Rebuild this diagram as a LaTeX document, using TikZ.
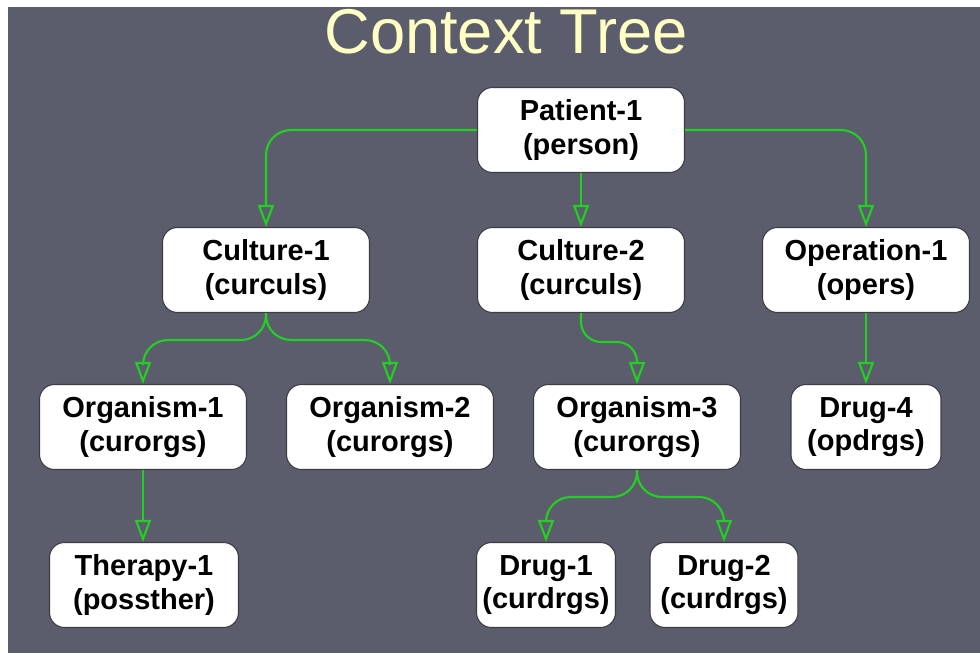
\documentclass[tikz,border=0pt]{standalone}
\usepackage{fontspec}
\setmainfont{Liberation Sans}
\usepackage{tikz}
\usetikzlibrary{arrows.meta}

\definecolor{slide}{RGB}{91,93,109}
\definecolor{linkgreen}{RGB}{34,208,34}
\definecolor{titleyellow}{RGB}{255,255,196}
\definecolor{boxline}{RGB}{60,60,66}

\tikzset{
	frame/.style={draw=boxline,line width=0.6pt,fill=white,rounded corners=0.3cm,
		minimum width=4.14cm,minimum height=1.7cm,align=center,inner sep=2pt,
		font=\fontsize{16.5}{19}\selectfont\bfseries},
	link/.style={draw=linkgreen,line width=1.2pt,rounded corners=0.5cm,
		-{Triangle[open,length=0.44cm,width=0.32cm]}}
}

\begin{document}
\begin{tikzpicture}
	%background
	\useasboundingbox (0,0) rectangle (19.6,-13.06);
	\fill[white] (0,0) rectangle (19.6,-13.06);
	\fill[slide] (0.16,-0.14) rectangle (19.6,-13.06);
	\node[anchor=base,text=titleyellow,font=\fontsize{36}{40}\selectfont] (title) at (10.12,-1.08) {Context Tree};

	%boxes
	\node[frame] (pat)   at (11.62,-2.6)  {Patient-1\\(person)};
	\node[frame] (cul1)  at (5.32,-5.4)   {Culture-1\\(curculs)};
	\node[frame] (cul2)  at (11.62,-5.4)  {Culture-2\\(curculs)};
	\node[frame] (op1)   at (17.32,-5.4)  {Operation-1\\(opers)};
	\node[frame] (org1)  at (2.86,-8.54)  {Organism-1\\(curorgs)};
	\node[frame] (org2)  at (7.8,-8.54)   {Organism-2\\(curorgs)};
	\node[frame] (org3)  at (12.74,-8.54) {Organism-3\\(curorgs)};
	\node[frame,minimum width=3cm]    (drug4) at (17.32,-8.54) {Drug-4\\(opdrgs)};
	\node[frame,minimum width=3.78cm] (ther)  at (2.88,-11.7)  {Therapy-1\\(possther)};
	\node[frame,minimum width=2.78cm] (drug1) at (10.92,-11.7) {Drug-1\\(curdrgs)};
	\node[frame,minimum width=2.96cm] (drug2) at (14.48,-11.7) {Drug-2\\(curdrgs)};

	%split points
	\coordinate (s1) at (5.32,-6.8);	%below culture-1
	\coordinate (s2) at (11.62,-6.84);	%below culture-2
	\coordinate (s3) at (12.74,-9.94);	%below organism-3

	%connectors
	\draw[link] (pat.west) -| (cul1.north);
	\draw[link] (pat.south) -- (cul2.north);
	\draw[link] (pat.east) -| (op1.north);
	\draw[link] (cul1.south) |- (org1.north |- s1) -- (org1.north);
	\draw[link] (cul1.south) |- (org2.north |- s1) -- (org2.north);
	\draw[link,rounded corners=0.4cm] (cul2.south) |- (org3.north |- s2) -- (org3.north);
	\draw[link] (op1.south) -- (drug4.north);
	\draw[link] (org1.south) -- (org1.south |- ther.north);
	\draw[link] (org3.south) |- (drug1.north |- s3) -- (drug1.north);
	\draw[link] (org3.south) |- (drug2.north |- s3) -- (drug2.north);
\end{tikzpicture}
\end{document}
